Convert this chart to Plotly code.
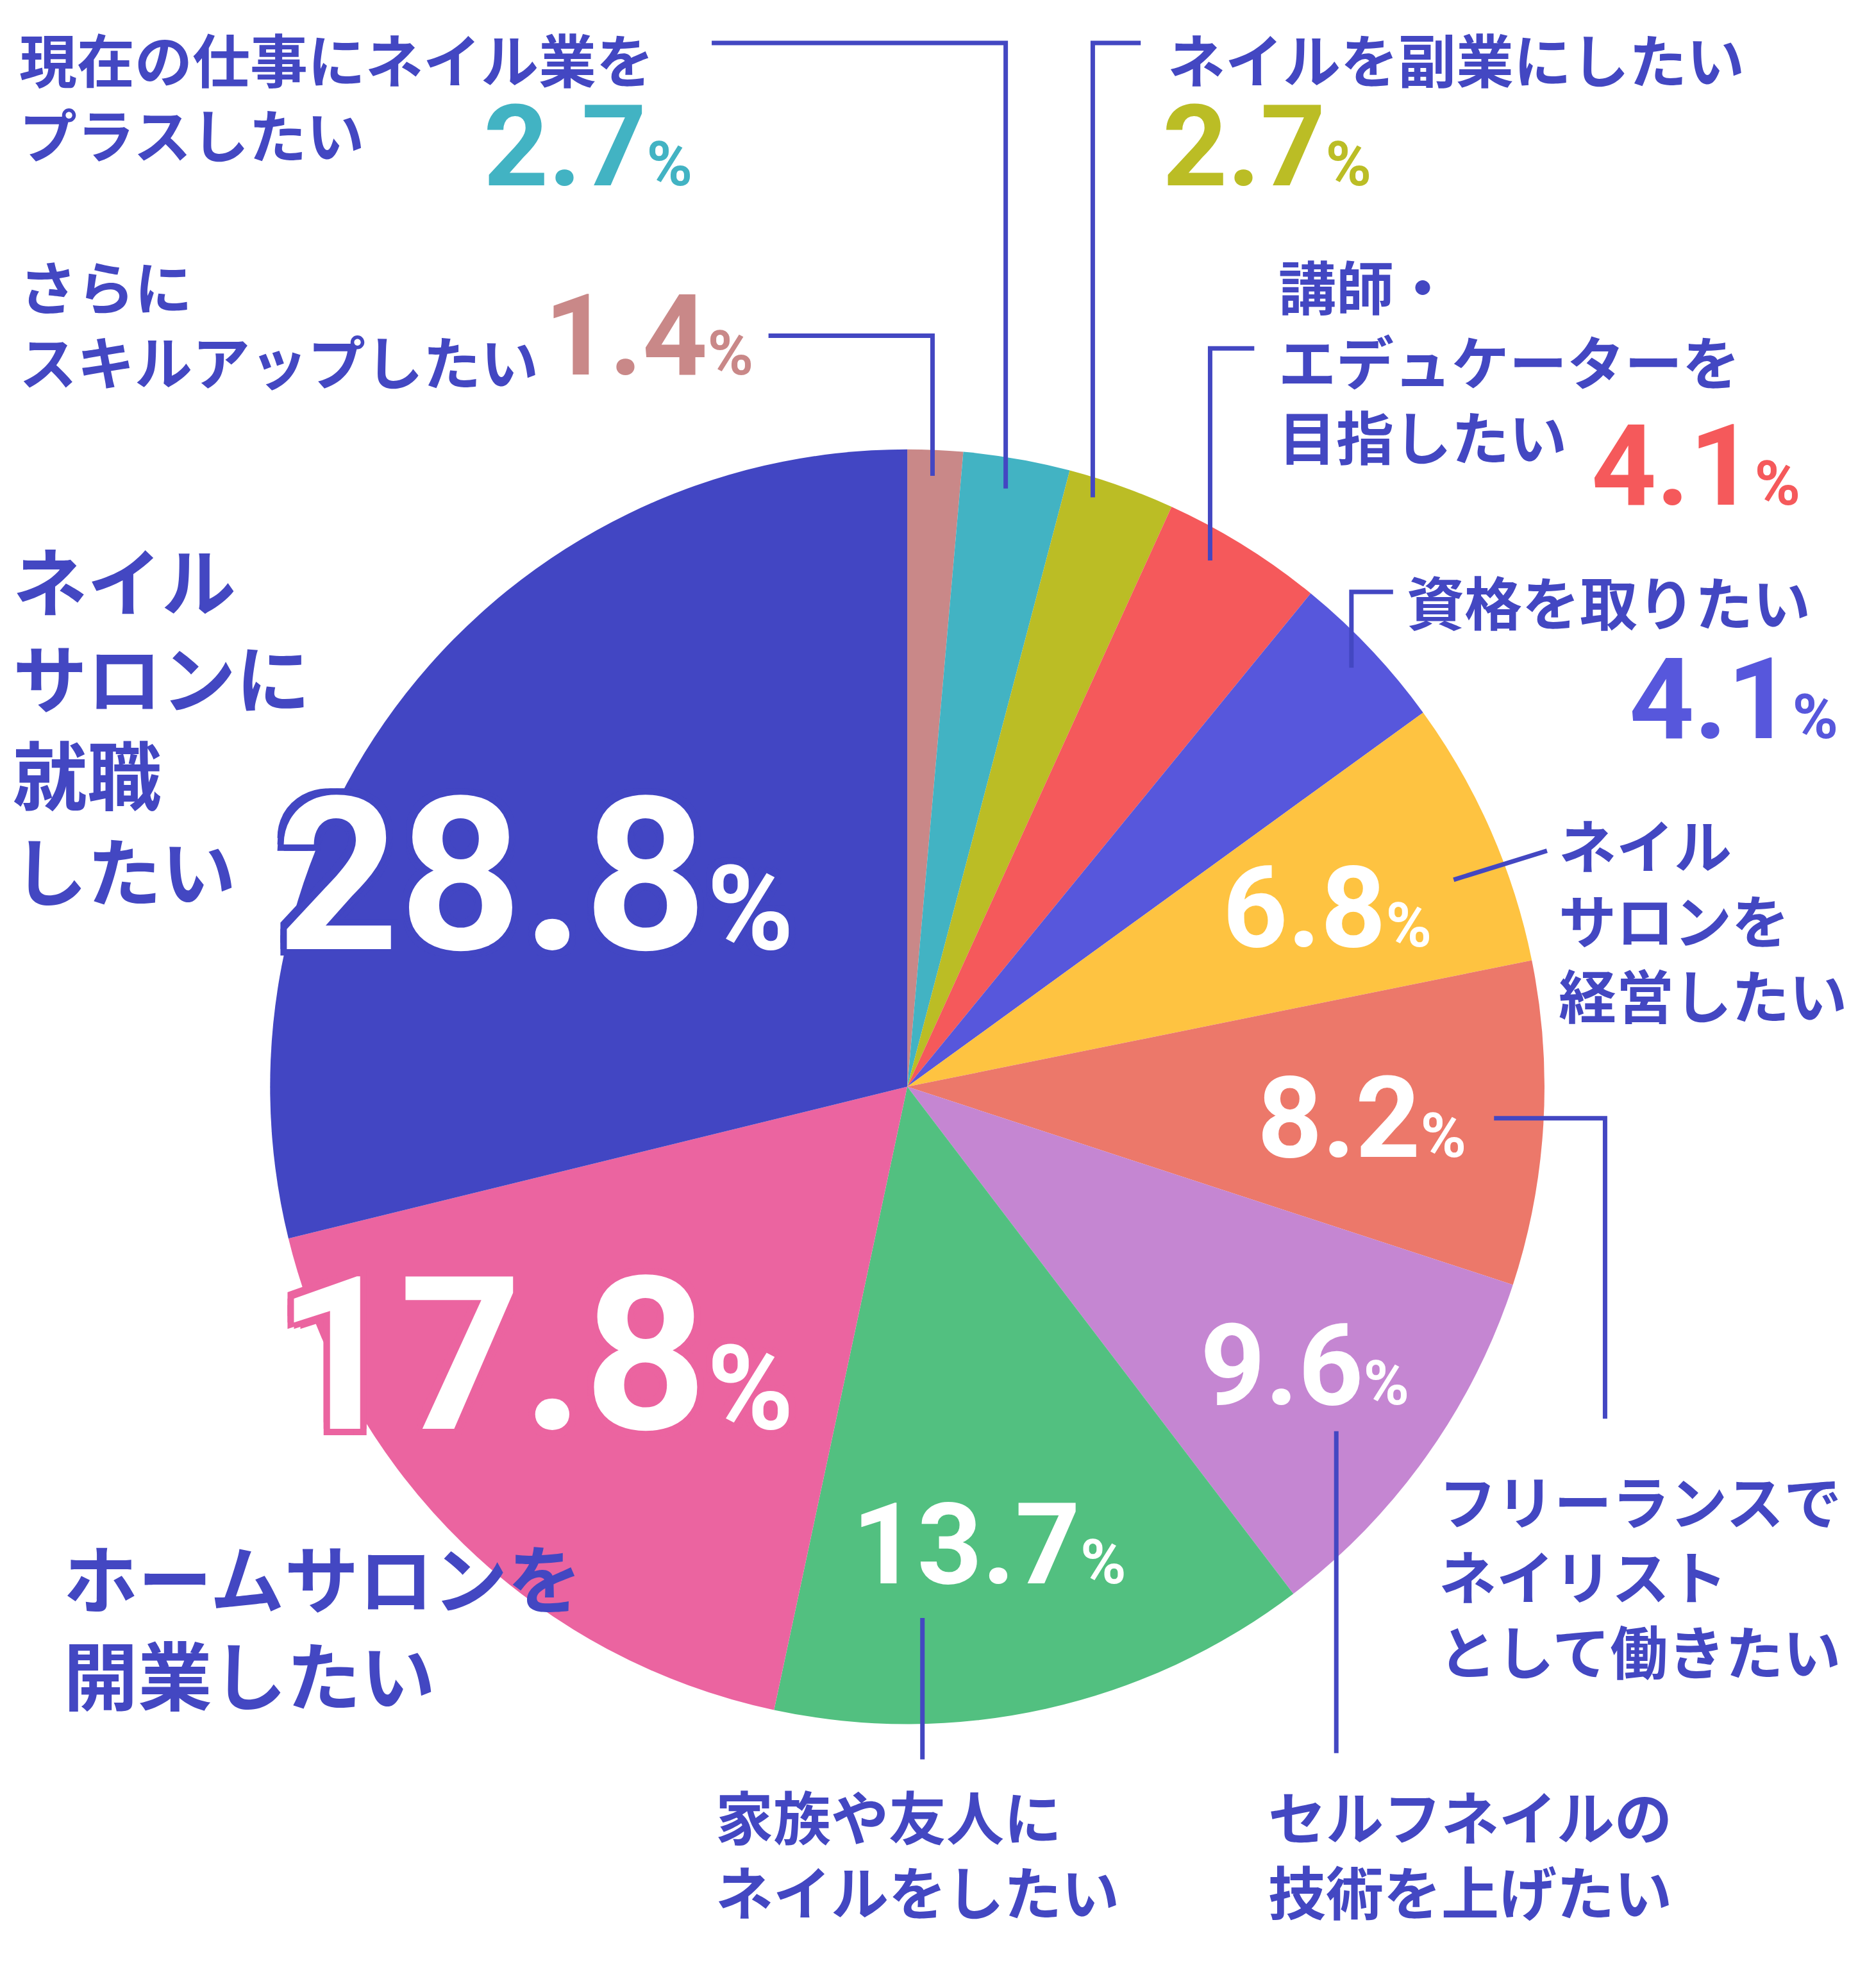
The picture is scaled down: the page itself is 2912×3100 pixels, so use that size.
import plotly.graph_objects as go

W, H = 2912, 3100
S = 0.984
BLUE = "#4347C2"
JP = "Noto Sans CJK JP"
NUM = "Liberation Sans Narrow, Roboto, sans-serif"

# data, clockwise from 12 o'clock
labels = ["さらにスキルアップしたい", "現在の仕事にネイル業をプラスしたい", "ネイルを副業にしたい",
          "講師・エデュケーターを目指したい", "資格を取りたい", "ネイルサロンを経営したい",
          "フリーランスでネイリストとして働きたい", "セルフネイルの技術を上げたい",
          "家族や友人にネイルをしたい", "ホームサロンを開業したい", "ネイルサロンに就職したい"]
values = [1.4, 2.7, 2.7, 4.1, 4.1, 6.8, 8.2, 9.6, 13.7, 17.8, 28.8]
colors = ["#C98888", "#42B3C3", "#BBBD25", "#F5595B", "#5757DC", "#FEC341",
          "#EC786A", "#C586D2", "#52C080", "#EB64A0", "#4246C3"]


def px(x, y):
    return x * S / W, 1 - y * S / H


def pct(v, size, color, shadow=None):
    return dict(text=f"{v}<span style='font-size:{int(size*0.55)}px'>%</span>",
                font=dict(family=NUM, size=size, color=color, weight="bold",
                          **({"shadow": shadow} if shadow else {})))


x0, y1 = px(420, 704)
x1, y0 = px(2440, 2724)
fig = go.Figure(go.Pie(labels=labels, values=values, sort=False, direction="clockwise",
                       marker=dict(colors=colors, line=dict(width=0)), textinfo="none",
                       hoverinfo="label+value", showlegend=False,
                       domain=dict(x=[x0, x1], y=[y0, y1])))

anns = []


def label(text, x, y, size=90, anchor="left"):
    xx, yy = px(x, y)
    anns.append(dict(x=xx, y=yy, xref="paper", yref="paper", xanchor=anchor, yanchor="top",
                     align="left", showarrow=False, text=text,
                     font=dict(family=JP, size=size, color=BLUE, weight="bold")))


def number(v, x, y, size, color, shadow=None):
    xx, yy = px(x, y)
    d = pct(v, int(size * S), color, shadow)
    anns.append(dict(x=xx, y=yy, xref="paper", yref="paper", xanchor="center", yanchor="middle",
                     showarrow=False, **d))


label("現在の仕事にネイル業を<br>プラスしたい", 20, 15)
number(values[1], 924, 224, 180, colors[1])
label("ネイルを副業にしたい", 1840, 15)
number(values[2], 2000, 224, 180, colors[2])
label("さらに<br>スキルアップしたい", 20, 375)
number(values[0], 1020, 524, 180, colors[0])
label("講師・<br>エデュケーターを<br>目指したい", 2016, 375)
number(values[3], 2680, 730, 180, colors[3])
label("資格を取りたい", 2220, 875)
number(values[4], 2740, 1100, 180, colors[4])
number(values[5], 2096, 1430, 180, "white")
label("ネイル<br>サロンを<br>経営したい", 2460, 1260)
number(values[6], 2150, 1764, 180, "white")
label("フリーランスで<br>ネイリスト<br>として働きたい", 2270, 2300)
number(values[7], 2060, 2156, 180, "white")
label("セルフネイルの<br>技術を上げたい", 2000, 2800)
number(values[8], 1560, 2440, 180, "white")
label("家族や友人に<br>ネイルをしたい", 1124, 2800)
o = 10
sh_pink = ", ".join(f"{a}px {b}px 0 {colors[9]}" for a in (-o, 0, o) for b in (-o, 0, o))
sh_blue = ", ".join(f"{a}px {b}px 0 {colors[10]}" for a in (-o, 0, o) for b in (-o, 0, o))
number(values[9], 840, 2140, 340, "white", sh_pink)
label("ホームサロンを<br>開業したい", 90, 2400, size=116)
number(values[10], 840, 1380, 340, "white", sh_blue)
label("ネイル<br>サロンに<br>就職<br>したい", 10, 820, size=116)

fig.update_layout(annotations=anns)

lines = [
    [(1120, 60), (1586, 60), (1586, 766)],
    [(1800, 60), (1724, 60), (1724, 780)],
    [(1210, 524), (1470, 524), (1470, 746)],
    [(1980, 544), (1910, 544), (1910, 880)],
    [(2200, 930), (2134, 930), (2134, 1050)],
    [(2296, 1386), (2444, 1340)],
    [(2360, 1764), (2536, 1764), (2536, 2240)],
    [(2110, 2260), (2110, 2770)],
    [(1454, 2556), (1454, 2780)],
]
for pts in lines:
    path = "M " + " L ".join(f"{px(x, y)[0]},{px(x, y)[1]}" for x, y in pts)
    fig.add_shape(type="path", path=path, xref="paper", yref="paper",
                  line=dict(color=BLUE, width=7))

fig.update_layout(width=W, height=H, margin=dict(l=0, r=0, t=0, b=0),
                  paper_bgcolor="white", plot_bgcolor="white")
fig.write_html("out.html")
